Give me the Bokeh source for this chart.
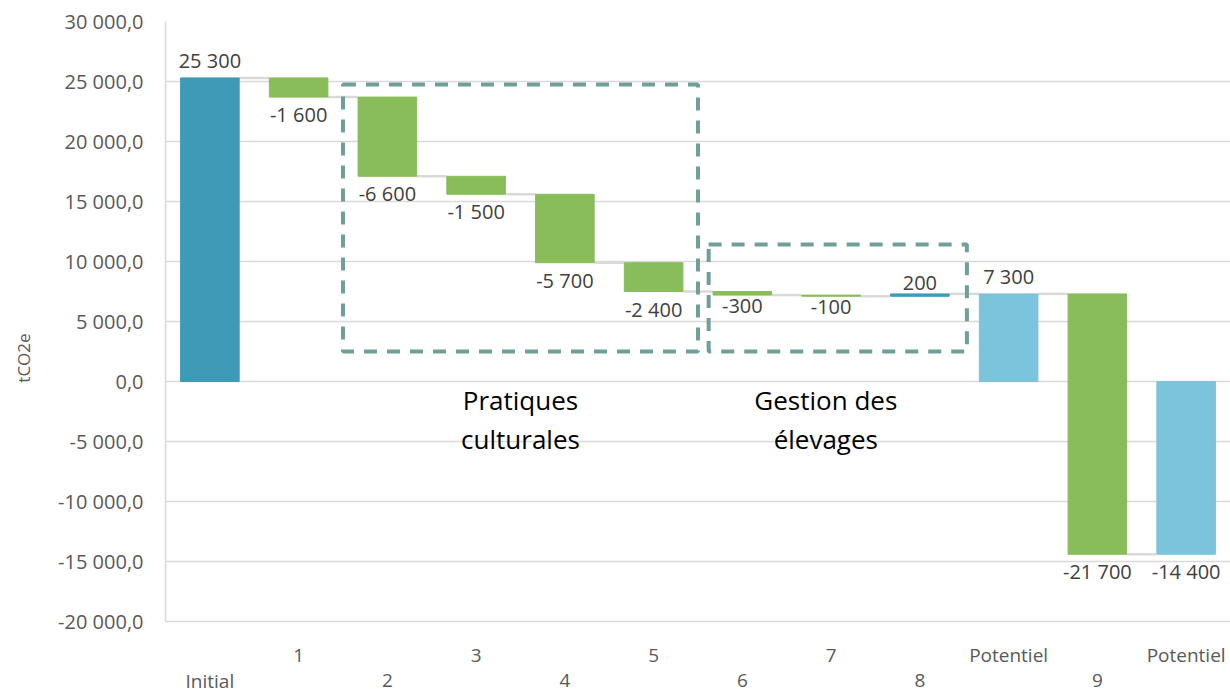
from bokeh.plotting import figure
from bokeh.models import (ColumnDataSource, Range1d, FixedTicker, BoxAnnotation,
                          Label, LabelSet)
from bokeh.core.properties import value
from bokeh.embed import file_html
from bokeh.resources import INLINE

# Waterfall data (tCO2e)
categories = ["Initial", "1", "2", "3", "4", "5", "6", "7", "8",
              "Potentiel", "9", "Potentiel"]
values = [25300, -1600, -6600, -1500, -5700, -2400, -300, -100, 200,
          7300, -21700, -14400]
kinds = ["total", "step", "step", "step", "step", "step", "step", "step", "step",
         "total", "step", "total"]
y_ticks = list(range(-20000, 30001, 5000))

C_INITIAL = "#3f9ab8"
C_TOTAL = "#7cc3dc"
C_DOWN = "#88bd5a"
C_UP = "#3c9bc4"
C_BOX = "#6e9f9b"
FONT = "Open Sans"


def fmt_int(v):
    s = f"{abs(v):,}".replace(",", " ")
    return ("-" if v < 0 else "") + s


def fmt_tick(v):
    s = f"{abs(v):,.1f}".replace(",", " ").replace(".", ",")
    return ("-" if v < 0 else "") + s


# Bar extents
xs, tops, bottoms, colors, ends = [], [], [], [], []
running = 0
for i, (v, k) in enumerate(zip(values, kinds)):
    xs.append(i + 0.5)
    if k == "total":
        lo, hi = min(0, v), max(0, v)
        running = v
        colors.append(C_INITIAL if i == 0 else C_TOTAL)
    else:
        start = running
        running = start + v
        lo, hi = min(start, running), max(start, running)
        colors.append(C_DOWN if v < 0 else C_UP)
    bottoms.append(lo)
    tops.append(hi)
    ends.append(running)

BAR_W = 0.66

bars = ColumnDataSource(dict(x=xs, top=tops, bottom=bottoms, color=colors))

# The frame runs down to the page bottom so the category rows fit inside it;
# the axis line and grid stop at -20 000.
p = figure(width=1230, height=694, x_range=Range1d(0, 12),
           y_range=Range1d(-26083, 30000), output_backend="svg",
           toolbar_location=None, x_axis_location=None,
           min_border_left=165, min_border_right=0, min_border_top=21,
           min_border_bottom=0)
p.outline_line_color = None
p.background_fill_color = "white"
p.border_fill_color = "white"

p.xgrid.visible = False
p.ygrid.grid_line_color = "#d9d9d9"
p.ygrid.grid_line_width = 1.5
p.yaxis.bounds = (-20000, 30000)
p.yaxis.ticker = FixedTicker(ticks=y_ticks)
p.yaxis.major_label_overrides = {v: fmt_tick(v) for v in y_ticks}
p.yaxis.major_tick_line_color = None
p.yaxis.minor_tick_line_color = None
p.yaxis.axis_line_color = "#d9d9d9"
p.yaxis.axis_line_width = 1.5
p.yaxis.major_label_standoff = 16
p.yaxis.major_label_text_font = FONT
p.yaxis.major_label_text_font_size = "20px"
p.yaxis.major_label_text_color = "#595959"
p.yaxis.axis_label = "tCO2e"
p.yaxis.axis_label_text_font = FONT
p.yaxis.axis_label_text_font_size = "17px"
p.yaxis.axis_label_text_font_style = "normal"
p.yaxis.axis_label_text_color = "#595959"
p.yaxis.axis_label_standoff = 20

# Connectors between consecutive bars
cx0 = [xs[i] + BAR_W / 2 for i in range(len(xs) - 1)]
cx1 = [xs[i + 1] - BAR_W / 2 for i in range(len(xs) - 1)]
cy = ends[:-1]
p.segment(x0=cx0, y0=cy, x1=cx1, y1=cy, line_color="#d9d9d9", line_width=2.5)

p.vbar(x="x", top="top", bottom="bottom", width=BAR_W, color="color",
       line_color="color", source=bars)

# Value labels: above the bar for increases, below it for decreases
pos = ColumnDataSource(dict(x=[x for x, v in zip(xs, values) if v >= 0],
                            y=[t for t, v in zip(tops, values) if v >= 0],
                            text=[fmt_int(v) for v in values if v >= 0]))
neg = ColumnDataSource(dict(x=[x for x, v in zip(xs, values) if v < 0],
                            y=[b for b, v in zip(bottoms, values) if v < 0],
                            text=[fmt_int(v) for v in values if v < 0]))
p.add_layout(LabelSet(x="x", y="y", text="text", source=pos, y_offset=4,
                      text_align="center", text_baseline="bottom",
                      text_font=value(FONT), text_font_size=value("20px"),
                      text_color="#404040"))
p.add_layout(LabelSet(x="x", y="y", text="text", source=neg, y_offset=-4,
                      text_align="center", text_baseline="top",
                      text_font=value(FONT), text_font_size=value("20px"),
                      text_color="#404040"))

# Group frames
for l, r, b, t in [(2.0, 6.0, 2500, 24750), (6.12, 9.03, 2500, 11420)]:
    p.add_layout(BoxAnnotation(left=l, right=r, bottom=b, top=t,
                               fill_alpha=0, line_color=C_BOX, line_alpha=1,
                               line_width=4, line_dash="13 10"))

for x, lines in [(4.0, ["Pratiques", "culturales"]),
                 (7.44, ["Gestion des", "élevages"])]:
    for y, s in zip([-1580, -4830], lines):
        p.add_layout(Label(x=x, y=y, text=s, text_align="center",
                           text_baseline="middle", text_font=FONT,
                           text_font_size="26px", text_color="#000000"))

# Category labels, staggered on two rows below the -20 000 line
cat_src = ColumnDataSource(dict(
    x=xs, text=categories,
    y=[-22833 if i % 2 else -24920 for i in range(len(categories))]))
p.add_layout(LabelSet(x="x", y="y", text="text", source=cat_src,
                      text_align="center", text_baseline="middle",
                      text_font=value(FONT), text_font_size=value("19px"),
                      text_color="#595959"))

open("out.html", "w").write(file_html(p, INLINE))
